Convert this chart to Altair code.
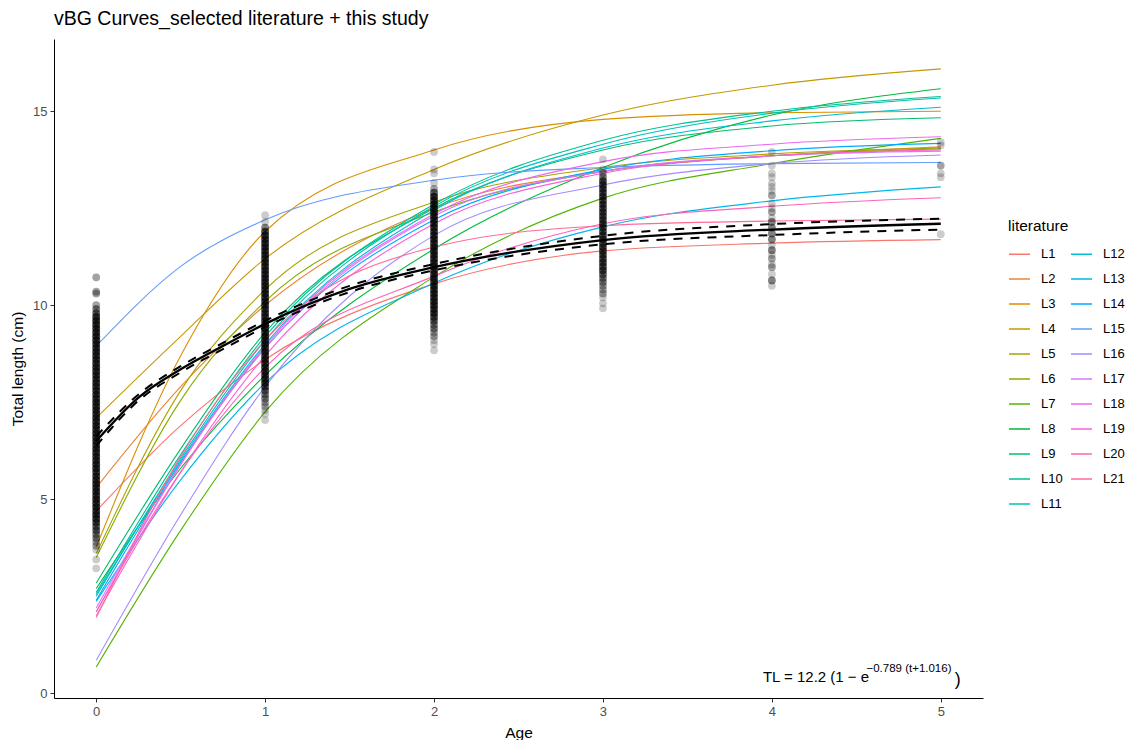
import math
import altair as alt
import pandas as pd

# ---------------- data ----------------
ages = [0, 0.5, 1, 2, 3, 4, 5]

L1 = [4.70, 6.90, 8.60, 10.55, 11.40, 11.60, 11.69]
L2 = [5.30, 7.90, 10.00, 12.50, 13.45, 13.85, 14.08]
L3 = [3.77, 8.70, 11.90, 14.00, 14.79, 14.96, 15.00]
L4 = [7.10, 9.20, 11.20, 13.50, 14.90, 15.67, 16.09]
L5 = [3.60, 7.80, 10.40, 12.66, 13.55, 13.90, 14.05]
L6 = [3.50, 7.55, 10.10, 12.40, 13.45, 13.85, 14.03]
L7 = [0.68, 4.20, 7.25, 10.73, 12.76, 13.65, 14.30]
L8 = [2.70, 5.80, 8.20, 11.45, 13.55, 14.90, 15.58]
L9 = [2.84, 6.30, 9.30, 12.50, 14.00, 14.62, 14.83]
L10 = [2.60, 6.15, 9.20, 12.60, 14.25, 15.00, 15.38]
L11 = [2.50, 6.05, 9.10, 12.55, 14.15, 14.95, 15.34]
L12 = [2.55, 6.00, 9.00, 12.45, 14.05, 14.75, 15.10]
L13 = [2.37, 5.50, 8.00, 10.57, 12.02, 12.69, 13.05]
L14 = [2.40, 5.95, 8.90, 12.20, 13.50, 13.98, 14.17]
L15 = [8.95, 11.00, 12.20, 13.22, 13.55, 13.65, 13.68]
L16 = [0.85, 4.60, 7.90, 11.80, 13.10, 13.65, 13.87]
L17 = [2.20, 5.90, 8.90, 12.30, 13.45, 13.85, 13.97]
L18 = [2.10, 5.90, 8.95, 12.35, 13.70, 14.15, 14.34]
L19 = [2.00, 5.70, 8.70, 12.10, 13.40, 13.85, 14.00]
L20 = [2.10, 5.70, 8.40, 10.75, 12.10, 12.55, 12.77]
L21 = [1.95, 6.10, 9.10, 11.50, 12.05, 12.17, 12.22]

lit_names = ["L%d" % i for i in range(1, 22)]
lit_values = [L1, L2, L3, L4, L5, L6, L7, L8, L9, L10, L11,
              L12, L13, L14, L15, L16, L17, L18, L19, L20, L21]

# observed fish (this study): length values and how many fish share them
age0_len = [3.22, 3.45, 3.70, 3.80, 3.90,
            4.00, 4.10, 4.20, 4.30, 4.40,
            4.50, 4.60, 4.70, 4.80, 4.90, 5.00, 5.10, 5.20, 5.30, 5.40,
            5.50, 5.60, 5.70, 5.80, 5.90, 6.00, 6.10, 6.20, 6.30, 6.40,
            6.50, 6.60, 6.70, 6.80, 6.90, 7.00, 7.10, 7.20, 7.30, 7.40,
            7.50, 7.60, 7.70, 7.80, 7.90, 8.00, 8.10, 8.20, 8.30, 8.40,
            8.50, 8.60, 8.70, 8.80, 8.90, 9.00, 9.10, 9.20, 9.30, 9.40,
            9.50, 9.60, 9.70,
            9.80, 9.90, 10.00, 10.30, 10.35, 10.72]
age0_n = [1, 1, 1, 2, 2,
          3, 3, 4, 4, 5,
          6, 6, 6, 6, 6, 6, 6, 6, 6, 6,
          6, 6, 6, 6, 6, 6, 6, 6, 6, 6,
          6, 6, 6, 6, 6, 6, 6, 6, 6, 6,
          6, 6, 6, 6, 6, 6, 6, 6, 6, 6,
          6, 6, 6, 6, 6, 6, 6, 6, 6, 6,
          6, 6, 6,
          4, 3, 2, 2, 2, 2]
age1_len = [7.04, 7.20, 7.30, 7.40, 7.50, 7.60, 7.70, 7.80, 7.90,
            8.00, 8.10, 8.20, 8.30, 8.40, 8.50, 8.60, 8.70, 8.80, 8.90,
            9.00, 9.10, 9.20, 9.30, 9.40, 9.50, 9.60, 9.70, 9.80, 9.90,
            10.00, 10.10, 10.20, 10.30, 10.40, 10.50, 10.60, 10.70, 10.80, 10.90,
            11.00, 11.10, 11.20, 11.30, 11.40, 11.50, 11.60, 11.70, 11.80,
            11.90, 12.00, 12.15, 12.32]
age1_n = [1, 1, 1, 2, 2, 3, 3, 4, 5,
          6, 6, 6, 6, 6, 6, 6, 6, 6, 6,
          6, 6, 6, 6, 6, 6, 6, 6, 6, 6,
          6, 6, 6, 6, 6, 6, 6, 6, 6, 6,
          6, 6, 6, 6, 6, 6, 6, 6, 6,
          5, 3, 1, 1]
age2_len = [8.84, 9.00, 9.10, 9.20, 9.30, 9.40, 9.50, 9.60, 9.70,
            9.80, 9.90, 10.00, 10.10, 10.20, 10.30, 10.40, 10.50, 10.60, 10.70,
            10.80, 10.90, 11.00, 11.10, 11.20, 11.30, 11.40, 11.50, 11.60, 11.70,
            11.80, 11.90, 12.00, 12.10, 12.20, 12.30, 12.40, 12.50, 12.60, 12.70,
            12.80,
            12.90, 13.00, 13.15, 13.40, 13.50, 13.95]
age2_n = [1, 1, 1, 2, 2, 3, 3, 4, 5,
          6, 6, 6, 6, 6, 6, 6, 6, 6, 6,
          6, 6, 6, 6, 6, 6, 6, 6, 6, 6,
          6, 6, 6, 6, 6, 6, 6, 6, 6, 6,
          6,
          4, 2, 1, 1, 1, 1]
age3_len = [9.92, 10.05, 10.20, 10.30, 10.40, 10.50, 10.60, 10.70, 10.80,
            10.90, 11.00, 11.10, 11.20, 11.30, 11.40, 11.50, 11.60, 11.70, 11.80,
            11.90, 12.00, 12.10, 12.20, 12.30, 12.40, 12.50, 12.60, 12.70, 12.80,
            12.90, 13.00, 13.10, 13.20,
            13.30, 13.40, 13.50, 13.76]
age3_n = [1, 1, 1, 2, 2, 2, 3, 3, 4,
          5, 5, 5, 5, 5, 5, 5, 5, 5, 5,
          5, 5, 5, 5, 5, 5, 5, 5, 5, 5,
          5, 5, 5, 5,
          3, 2, 1, 1]
age4_len = [10.50, 10.64, 10.80, 10.98, 11.05, 11.20, 11.30, 11.42, 11.55, 11.70,
            11.85, 12.00, 12.15, 12.25, 12.40, 12.50, 12.62, 12.83, 12.95, 13.05,
            13.14, 13.30, 13.40, 13.60, 13.95]
age4_n = [1, 3, 1, 2, 1, 2, 1, 3, 1, 3,
          3, 3, 3, 1, 2, 1, 1, 2, 1, 1,
          1, 1, 1, 1, 1]
age5_len = [11.83, 13.30, 13.40, 13.60, 14.12, 14.20]
age5_n = [1, 1, 1, 2, 1, 1]

# fitted von Bertalanffy curve of this study and its confidence band
fit_age = [0, 0.25, 0.5, 0.75, 1, 1.5, 2, 3, 4, 5]
fit_len = [6.50, 7.62, 8.35, 8.95, 9.52, 10.42, 10.98, 11.68, 11.95, 12.10]
fit_upr = [6.62, 7.70, 8.43, 9.03, 9.60, 10.50, 11.06, 11.79, 12.09, 12.23]
fit_lwr = [6.38, 7.54, 8.27, 8.87, 9.44, 10.34, 10.90, 11.57, 11.81, 11.95]

x_ticks = [0, 1, 2, 3, 4, 5]
y_ticks = [0, 5, 10, 15]

# ---------------- tables ----------------
lit_rows = []
for name, vals in zip(lit_names, lit_values):
    for a, v in zip(ages, vals):
        lit_rows.append({"literature": name, "age": a, "tl": v})
lit_df = pd.DataFrame(lit_rows)

pt_rows = []
for a, lens, ns in [(0, age0_len, age0_n), (1, age1_len, age1_n), (2, age2_len, age2_n),
                    (3, age3_len, age3_n), (4, age4_len, age4_n), (5, age5_len, age5_n)]:
    for l, n in zip(lens, ns):
        for _ in range(n):
            pt_rows.append({"age": a, "tl": l})
pt_df = pd.DataFrame(pt_rows)

fit_df = pd.DataFrame({"age": fit_age, "tl": fit_len, "upr": fit_upr, "lwr": fit_lwr})


# ---------------- ggplot hue palette ----------------
def hcl_hex(h, c=100.0, l=65.0):
    hr = math.radians(h)
    U = c * math.cos(hr)
    V = c * math.sin(hr)
    Xn, Yn, Zn = 95.047, 100.0, 108.883
    Y = Yn * ((l + 16) / 116) ** 3
    den = Xn + 15 * Yn + 3 * Zn
    un = 4 * Xn / den
    vn = 9 * Yn / den
    u = U / (13 * l) + un
    v = V / (13 * l) + vn
    X = 9.0 * Y * u / (4 * v)
    Z = -X / 3 - 5 * Y + 3 * Y / v
    rgb = [(3.240479 * X - 1.537150 * Y - 0.498535 * Z) / 100,
           (-0.969256 * X + 1.875992 * Y + 0.041556 * Z) / 100,
           (0.055648 * X - 0.204043 * Y + 1.057311 * Z) / 100]
    out = []
    for cc in rgb:
        cc = 12.92 * cc if cc <= 0.0031308 else 1.055 * cc ** (1 / 2.4) - 0.055
        cc = min(max(cc, 0.0), 1.0)
        out.append(int(round(cc * 255)))
    return "#%02X%02X%02X" % tuple(out)


rng = [hcl_hex(15 + 360.0 / 21 * i) for i in range(len(lit_names))]

FONT = "Liberation Sans"
xs = alt.Scale(domain=[-0.25, 5.25], nice=False, zero=False)
ys = alt.Scale(domain=[-0.12, 16.86], nice=False, zero=False)

x_enc = alt.X("age:Q", scale=xs, axis=alt.Axis(values=x_ticks, title="Age", format="d"))
y_enc = alt.Y("tl:Q", scale=ys, axis=alt.Axis(values=y_ticks, title="Total length (cm)", format="d"))

lines = alt.Chart(lit_df).mark_line(strokeWidth=1.1, interpolate="monotone").encode(
    x=x_enc,
    y=y_enc,
    color=alt.Color("literature:N", scale=alt.Scale(domain=lit_names, range=rng),
                    legend=alt.Legend(title="literature", orient="none", legendX=954, legendY=180,
                                      columns=2, symbolType="stroke", symbolSize=441,
                                      symbolStrokeWidth=1.5, labelFontSize=13, titleFontSize=15.5,
                                      titleFontWeight="normal", labelFont=FONT, titleFont=FONT,
                                      labelColor="black", titleColor="black",
                                      rowPadding=6, columnPadding=5, titlePadding=8,
                                      labelOffset=10, padding=0)),
)

points = alt.Chart(pt_df).mark_circle(size=60, opacity=0.2, color="black").encode(
    x=alt.X("age:Q", scale=xs), y=alt.Y("tl:Q", scale=ys))

fit_line = alt.Chart(fit_df).mark_line(color="black", strokeWidth=2.3, interpolate="monotone").encode(
    x=alt.X("age:Q", scale=xs), y=alt.Y("tl:Q", scale=ys))
fit_up = alt.Chart(fit_df).mark_line(color="black", strokeWidth=2.0, strokeDash=[9, 8],
                                     interpolate="monotone").encode(
    x=alt.X("age:Q", scale=xs), y=alt.Y("upr:Q", scale=ys))
fit_lo = alt.Chart(fit_df).mark_line(color="black", strokeWidth=2.0, strokeDash=[9, 8],
                                     interpolate="monotone").encode(
    x=alt.X("age:Q", scale=xs), y=alt.Y("lwr:Q", scale=ys))

one = pd.DataFrame({"k": [0]})
ann1 = alt.Chart(one).mark_text(text="TL = 12.2 (1 − e", align="left", baseline="alphabetic",
                                fontSize=15, font=FONT, color="black").encode(
    x=alt.datum(3.947, scale=xs), y=alt.datum(0.284, scale=ys))
ann2 = alt.Chart(one).mark_text(text="−0.789 (t+1.016)", align="left", baseline="alphabetic",
                                fontSize=11.5, font=FONT, color="black").encode(
    x=alt.datum(4.56, scale=xs), y=alt.datum(0.54, scale=ys))
ann3 = alt.Chart(one).mark_text(text=")", align="left", baseline="alphabetic",
                                fontSize=18, font=FONT, color="black").encode(
    x=alt.datum(5.083, scale=xs), y=alt.datum(0.22, scale=ys))

chart = alt.layer(lines, points, fit_line, fit_up, fit_lo, ann1, ann2, ann3).properties(
    width=929, height=659,
    padding={"left": 54, "top": 39, "right": 152, "bottom": 42},
    autosize=alt.AutoSizeParams(type="none"),
    background="white",
    title=alt.TitleParams("vBG Curves_selected literature + this study", anchor="start",
                          frame="group", fontSize=19.5, font=FONT, fontWeight="normal",
                          color="black", offset=15, baseline="alphabetic", dy=20),
).configure_view(stroke=None).configure_axis(
    grid=False, domainColor="black", domainWidth=1, tickColor="#333333", tickWidth=1,
    tickSize=4, labelColor="#4D4D4D", labelFontSize=13, labelFont=FONT, labelPadding=3,
    titleFont=FONT, titleFontSize=15.5, titleFontWeight="normal", titleColor="black",
    titlePadding=7,
)

chart.save("out.html", embed_options={"renderer": "svg", "actions": False})
